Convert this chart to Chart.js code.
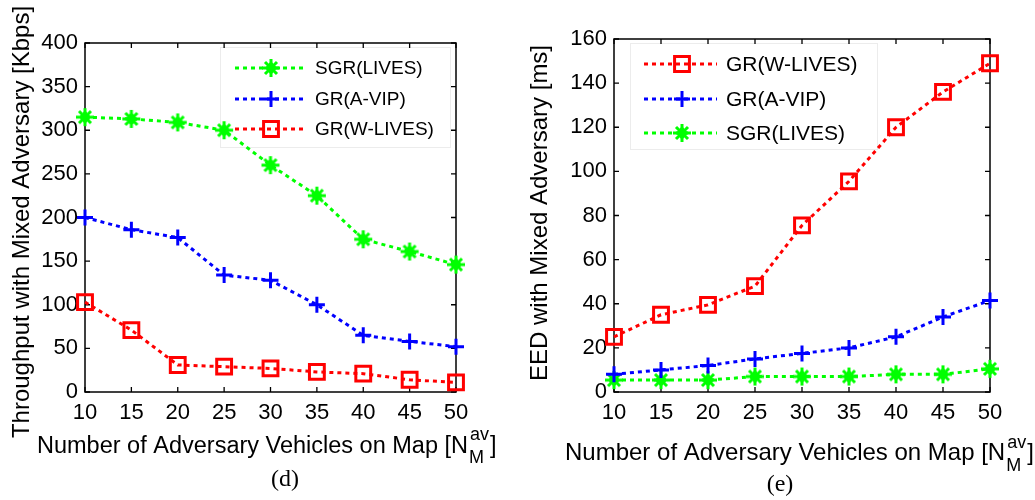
<!DOCTYPE html>
<html><head><meta charset="utf-8">
<script src="https://cdn.jsdelivr.net/npm/chart.js@4.4.1/dist/chart.umd.min.js"></script>
<style>
html,body{margin:0;padding:0;background:#fff;}
#wrap{position:relative;width:1035px;height:500px;overflow:hidden;background:#fff;}
</style></head><body>
<div id="wrap">
<canvas id="c1" width="520" height="500" style="position:absolute;left:0;top:0;"></canvas>
<canvas id="c2" width="515" height="500" style="position:absolute;left:520px;top:0;"></canvas>
</div>
<script>
// ---- data ----
const xLabels = ['10','15','20','25','30','35','40','45','50'];
const thrSGR  = [315, 313, 309, 300, 260, 225, 175, 161, 146];
const thrAVIP = [200, 186, 177, 134, 128, 100, 65, 58, 52];
const thrWL   = [103, 71, 31, 29, 27, 23, 21, 14, 11];
const eedWL   = [25, 35, 39.5, 48, 75.5, 95.5, 120, 136, 149];
const eedAVIP = [8, 10, 12, 15, 17.5, 20, 25, 34, 41.5];
const eedSGR  = [5.4, 5.4, 5.4, 7, 7, 7, 8, 8, 10.5];
const thrTicks = {min:0, max:400, step:50};
const eedTicks = {min:0, max:160, step:20};
const nameSGR = 'SGR(LIVES)', nameAVIP = 'GR(A-VIP)', nameWL = 'GR(W-LIVES)';

const FONT = "'Liberation Sans', Arial, sans-serif";
const SERIF = "'Liberation Serif', 'Times New Roman', serif";
const GREEN = '#00ff00', BLUE = '#0000ff', RED = '#ff0000';

// MATLAB-like thick '*' marker (green blob)
function starBlob(color) {
  const c = document.createElement('canvas');
  c.width = 22; c.height = 22;
  const g = c.getContext('2d');
  const m = 11;
  g.fillStyle = color; g.strokeStyle = color; g.lineCap = 'butt';
  g.beginPath(); g.moveTo(m, m - 7); g.lineTo(m + 6, m); g.lineTo(m, m + 7); g.lineTo(m - 6, m); g.closePath(); g.fill();
  g.lineWidth = 3;
  g.beginPath();
  g.moveTo(m - 9, m); g.lineTo(m + 9, m);
  g.moveTo(m, m - 9); g.lineTo(m, m + 9);
  g.moveTo(m - 6, m - 6); g.lineTo(m + 6, m + 6);
  g.moveTo(m - 6, m + 6); g.lineTo(m + 6, m - 6);
  g.stroke();
  return c;
}
const greenMarker = starBlob(GREEN);

function ds(label, data, color, style, radius) {
  return {
    label, data, borderColor: color, backgroundColor: 'rgba(0,0,0,0)',
    borderWidth: 3, borderDash: [4,4], borderCapStyle: 'butt', tension: 0, fill: false, clip: false,
    pointStyle: style, pointRadius: radius, pointHoverRadius: radius,
    pointBorderWidth: 3, pointBorderColor: color, pointBackgroundColor: 'rgba(0,0,0,0)'
  };
}
const STY = {
  [nameSGR]: [greenMarker, 9], [nameAVIP]: ['cross', 8], [nameWL]: ['rect', 10.5]
};

function makePlugin(cfg) {
  return {
    id: 'matlabDecor',
    beforeDatasetsDraw(chart) {
      const ctx = chart.ctx, a = chart.chartArea, x = chart.scales.x, y = chart.scales.y;
      ctx.save();
      const L = cfg.legend;
      ctx.fillStyle = '#fff';
      ctx.fillRect(L.x0, L.y0, L.x1 - L.x0, L.y1 - L.y0);
      ctx.strokeStyle = '#ececec'; ctx.lineWidth = 1;
      ctx.strokeRect(L.x0 + 0.5, L.y0 + 0.5, L.x1 - L.x0, L.y1 - L.y0);
      ctx.strokeStyle = '#000'; ctx.lineWidth = 1.5; ctx.setLineDash([]);
      ctx.strokeRect(a.left, a.top, a.right - a.left, a.bottom - a.top);
      ctx.lineWidth = 1.3;
      ctx.beginPath();
      y.ticks.forEach(t => {
        const py = y.getPixelForValue(t.value);
        ctx.moveTo(a.left, py); ctx.lineTo(a.left + 5, py);
        ctx.moveTo(a.right, py); ctx.lineTo(a.right - 5, py);
      });
      chart.data.labels.forEach((l, i) => {
        const px = x.getPixelForValue(i);
        ctx.moveTo(px, a.bottom); ctx.lineTo(px, a.bottom - 5);
        ctx.moveTo(px, a.top); ctx.lineTo(px, a.top + 5);
      });
      ctx.stroke();
      chart.data.datasets.forEach((d, i) => {
        const ey = L.rows[i];
        ctx.strokeStyle = d.borderColor; ctx.lineWidth = 3; ctx.setLineDash([4,4]);
        ctx.beginPath(); ctx.moveTo(L.lx0, ey); ctx.lineTo(L.lx1, ey); ctx.stroke();
        ctx.setLineDash([]);
        ctx.fillStyle = 'rgba(0,0,0,0)'; ctx.strokeStyle = d.borderColor; ctx.lineWidth = 3;
        Chart.helpers.drawPoint(ctx, {pointStyle: d.pointStyle, radius: d.pointRadius, borderWidth: 3, rotation: 0}, L.mx, ey);
        ctx.fillStyle = '#000'; ctx.font = L.font + 'px ' + FONT;
        ctx.textAlign = 'left'; ctx.textBaseline = 'middle';
        ctx.fillText(d.label, L.tx, ey + 1);
      });
      ctx.restore();
    },
    afterDraw(chart) {
      const ctx = chart.ctx;
      ctx.save();
      ctx.fillStyle = '#000';
      ctx.font = '24px ' + FONT;
      ctx.translate(cfg.yTitle.cx, cfg.yTitle.cy);
      ctx.rotate(-Math.PI / 2);
      ctx.textAlign = 'center'; ctx.textBaseline = 'middle';
      ctx.fillText(cfg.yTitle.text, 0, 0);
      ctx.setTransform(1, 0, 0, 1, 0, 0);
      const X = cfg.xTitle;
      ctx.textAlign = 'left'; ctx.textBaseline = 'alphabetic';
      ctx.font = X.size + 'px ' + FONT;
      const main = 'Number of Adversary Vehicles on Map [N';
      ctx.fillText(main, X.x, X.base);
      const w = ctx.measureText(main).width;
      ctx.font = '18px ' + FONT;
      ctx.fillText('av', X.x + w + 2, X.sup);
      ctx.fillText('M', X.x + w + 1, X.sub);
      const ww = Math.max(ctx.measureText('av').width + 2, ctx.measureText('M').width + 1);
      ctx.font = X.size + 'px ' + FONT;
      ctx.fillText(']', X.x + w + ww + 1, X.base);
      ctx.font = '24px ' + SERIF; ctx.textAlign = 'center'; ctx.textBaseline = 'middle';
      ctx.fillText(cfg.letter.text, cfg.letter.x, cfg.letter.y);
      ctx.restore();
    }
  };
}

function makeChart(id, datasets, tk, area, canvasW, cfg) {
  const tickFont = {family: FONT, size: 22};
  return new Chart(document.getElementById(id), {
    type: 'line',
    data: { labels: xLabels, datasets },
    options: {
      responsive: false, animation: false, devicePixelRatio: 1,
      layout: { padding: { left: 0, top: area.top, right: canvasW - area.right, bottom: 0 } },
      plugins: { legend: { display: false }, tooltip: { enabled: false } },
      scales: {
        x: {
          type: 'category', offset: false,
          grid: { display: false, drawTicks: false, tickLength: 0 }, border: { display: false },
          ticks: { font: tickFont, color: '#000', padding: 8, autoSkip: false, maxRotation: 0 },
          afterFit(s) { s.height = 500 - area.bottom; }
        },
        y: {
          min: tk.min, max: tk.max,
          grid: { display: false, drawTicks: false, tickLength: 0 }, border: { display: false },
          ticks: { font: tickFont, color: '#000', padding: 7, stepSize: tk.step },
          afterFit(s) { s.width = area.left; }
        }
      }
    },
    plugins: [makePlugin(cfg)]
  });
}

function mk(label, data, color) { const s = STY[label]; return ds(label, data, color, s[0], s[1]); }

makeChart('c1', [
  mk(nameSGR, thrSGR, GREEN), mk(nameAVIP, thrAVIP, BLUE), mk(nameWL, thrWL, RED)
], thrTicks, {left: 85, right: 456, top: 43, bottom: 392}, 520, {
  legend: {x0: 220, y0: 47, x1: 450, y1: 147, rows: [68, 99, 129], lx0: 235, lx1: 305, mx: 271, tx: 315, font: 19},
  yTitle: {cx: 22, cy: 222, text: 'Throughput with Mixed Adversary [Kbps]'},
  xTitle: {x: 37, base: 453, sup: 440, sub: 463, size: 23.5},
  letter: {text: '(d)', x: 285, y: 480}
});

makeChart('c2', [
  mk(nameWL, eedWL, RED), mk(nameAVIP, eedAVIP, BLUE), mk(nameSGR, eedSGR, GREEN)
], eedTicks, {left: 94, right: 470, top: 39, bottom: 392}, 515, {
  legend: {x0: 110, y0: 43, x1: 357, y1: 149, rows: [64, 99, 133], lx0: 124, lx1: 197, mx: 162, tx: 206, font: 21},
  yTitle: {cx: 20, cy: 213, text: 'EED with Mixed Adversary [ms]'},
  xTitle: {x: 45, base: 460, sup: 448, sub: 471, size: 24},
  letter: {text: '(e)', x: 260, y: 485}
});
</script>
</body></html>
